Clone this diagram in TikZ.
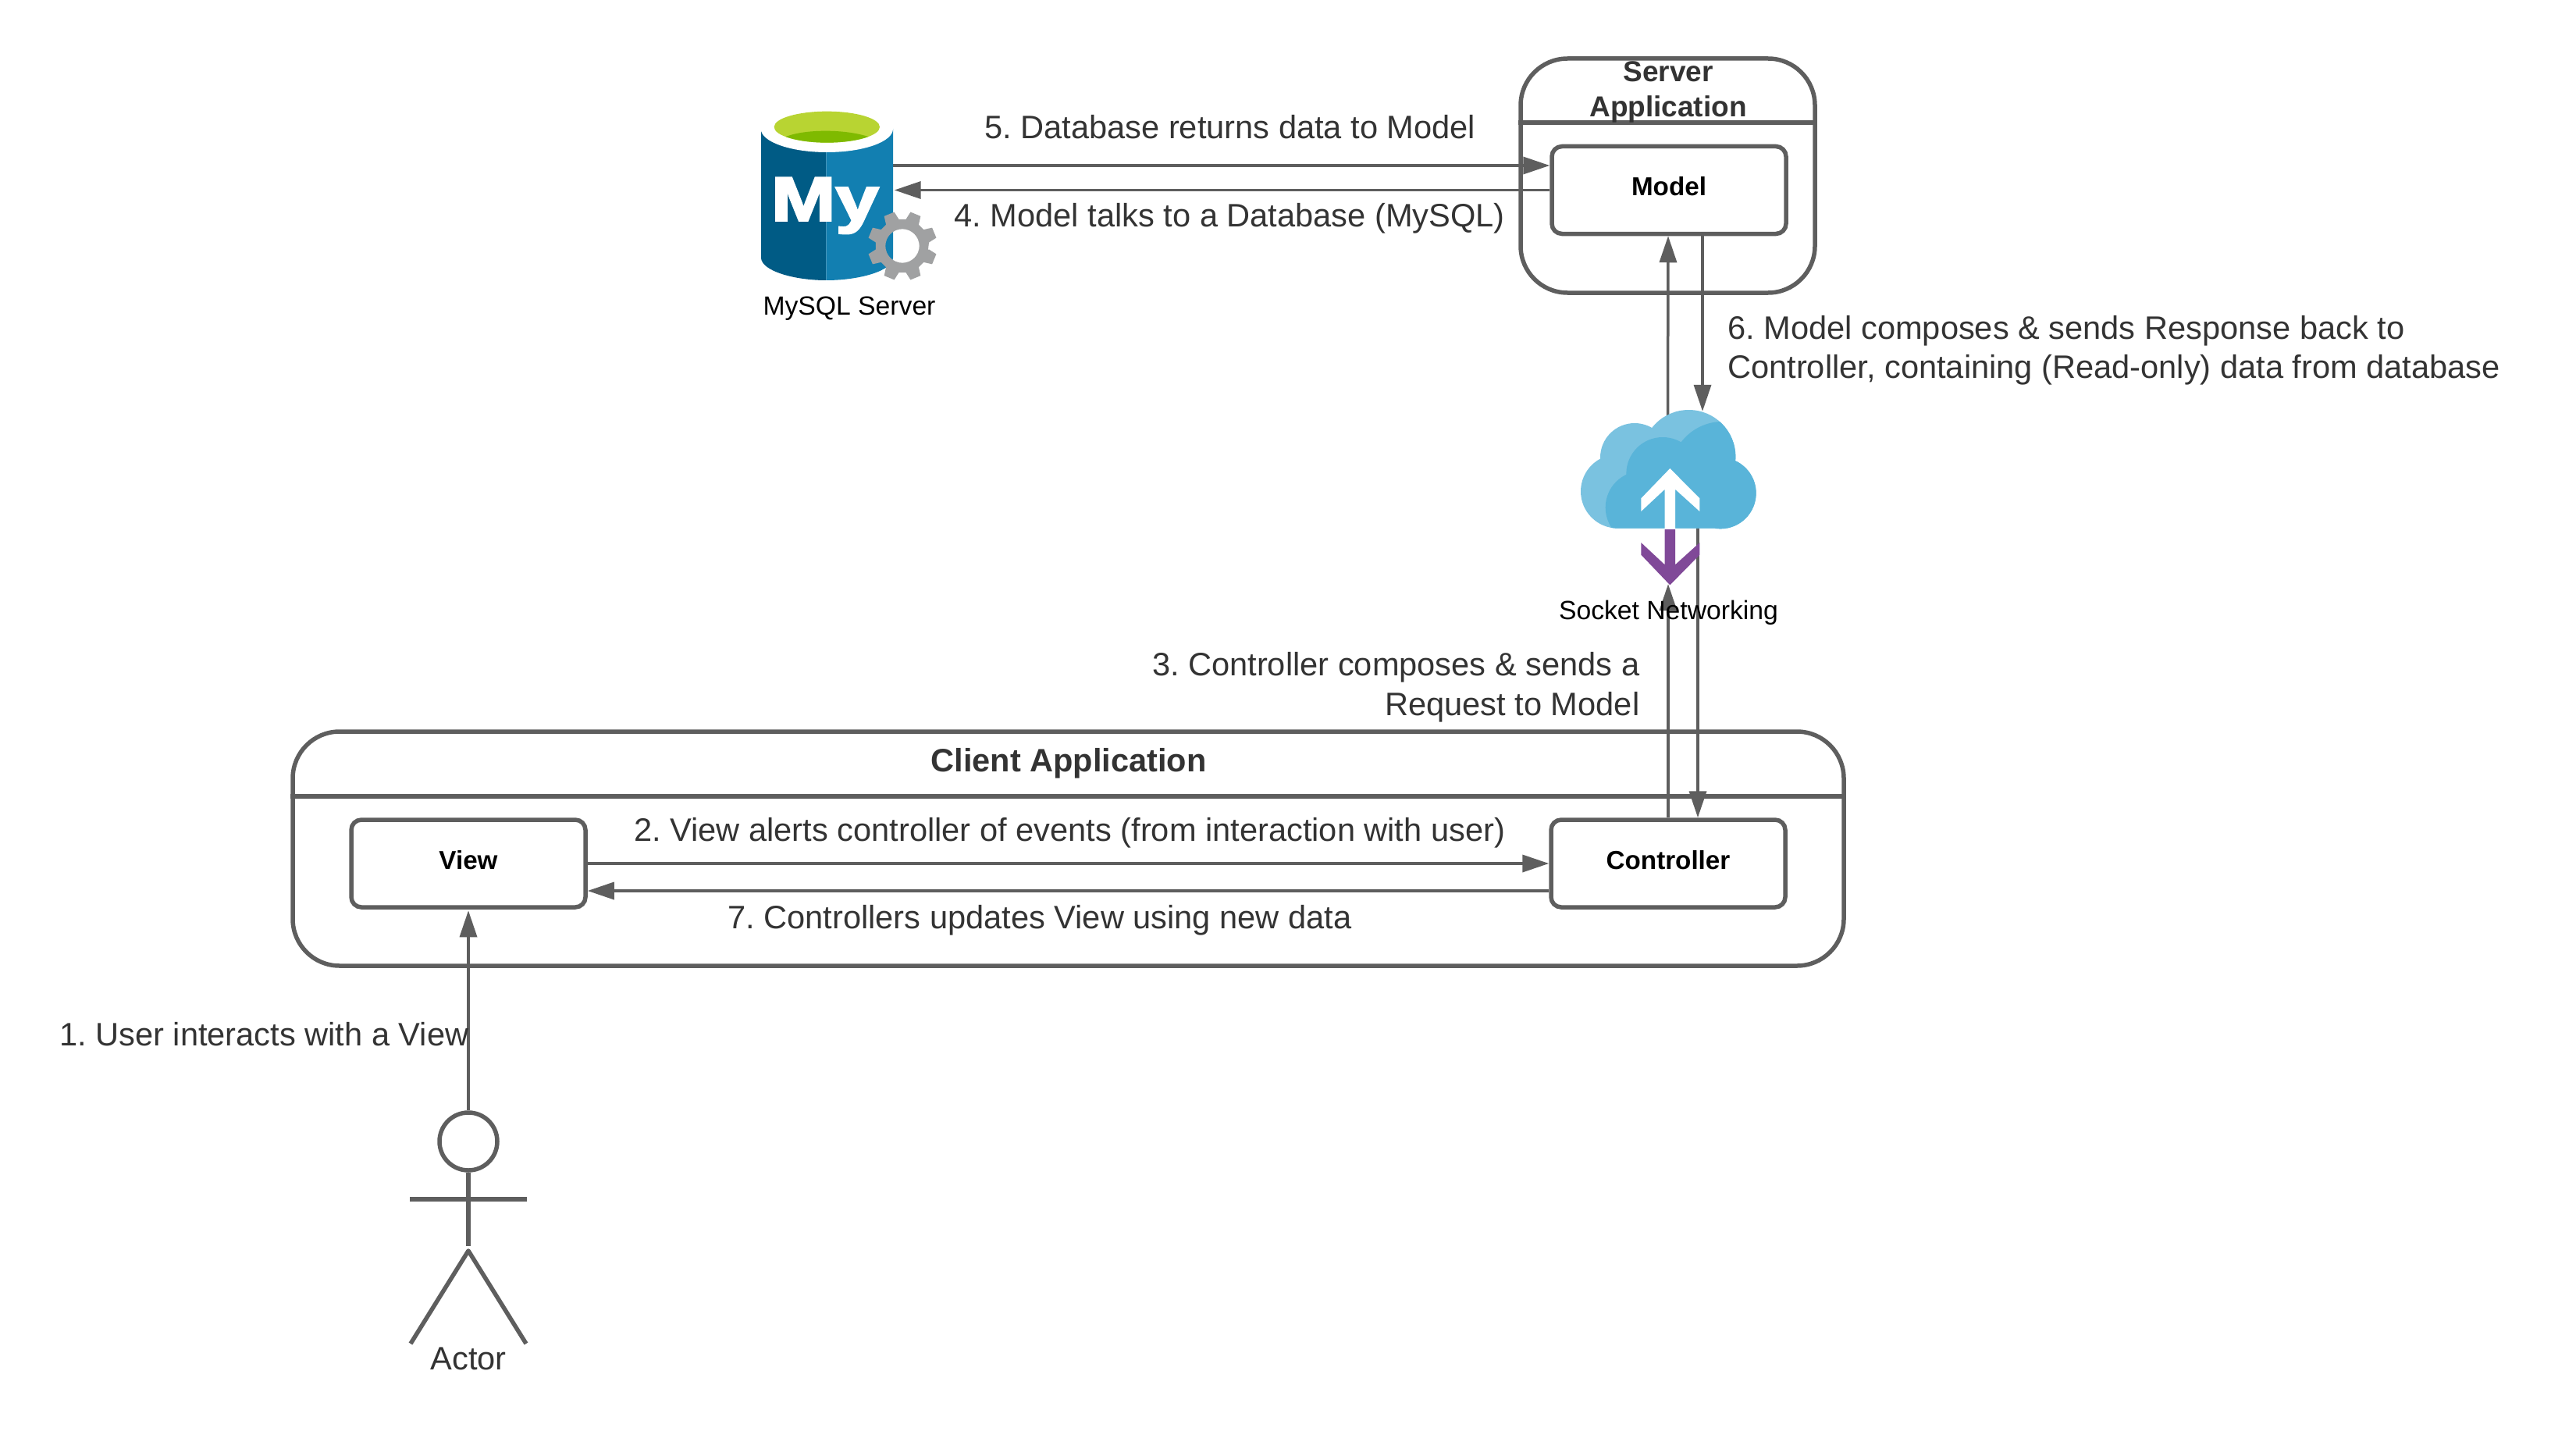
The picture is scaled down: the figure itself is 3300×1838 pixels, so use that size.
\documentclass[tikz,border=0pt]{standalone}
\usepackage{fontspec}
\setmainfont{Liberation Sans}
\newfontfamily\logofont[FakeBold=3]{Liberation Sans Bold}
\usetikzlibrary{arrows.meta,calc}
\definecolor{linegray}{HTML}{5E5E5E}
\definecolor{labelgray}{HTML}{333333}
\definecolor{dbdark}{HTML}{005B85}
\definecolor{dblight}{HTML}{127FB1}
\definecolor{limelight}{HTML}{B8D432}
\definecolor{limedark}{HTML}{7FBA00}
\definecolor{gearcol}{HTML}{A0A1A2}
\definecolor{cloudlight}{HTML}{7AC2E0}
\definecolor{clouddark}{HTML}{59B4D9}
\definecolor{netpurple}{HTML}{804998}
\frenchspacing
\tikzset{
  x=1pt,y=-1pt,
  container/.style={draw=linegray,line width=5.5pt,rounded corners=60pt,fill=white,inner sep=0pt},
  compbox/.style={draw=linegray,line width=5.5pt,rounded corners=13pt,fill=white,inner sep=0pt,
    minimum width=300pt,minimum height=112pt,text height=24pt,text depth=10pt,
    font=\fontsize{33.2}{38}\selectfont\bfseries,text=black},
  conn/.style={draw=linegray,line width=3.5pt,-{Triangle[length=34pt,width=22pt]}},
  msg/.style={font=\fontsize{41.6}{47}\selectfont,text=labelgray,inner sep=0pt},
  title/.style={font=\fontsize{37}{45}\selectfont\bfseries,text=labelgray,inner sep=0pt,align=center},
  iconlabel/.style={font=\fontsize{33.7}{38}\selectfont,text=black,inner sep=0pt},
  actorline/.style={draw=linegray,line width=5.5pt},
  anchorbox/.style={inner sep=0pt},
}
\begin{document}
\begin{tikzpicture}
\useasboundingbox (0,0) rectangle (3300,1838);
% containers
\node[container,minimum width=377pt,minimum height=300pt] (serverbox) at (2136.5,225) {};
\draw[actorline] (serverbox.west |- 0,157) -- (serverbox.east |- 0,157);
\node[title,anchor=south] (servertitle) at (2137,157) {Server\\Application};
\node[container,minimum width=1987pt,minimum height=300pt] (clientbox) at (1368.5,1087) {};
\draw[actorline] (clientbox.west |- 0,1020) -- (clientbox.east |- 0,1020);
\node[title,anchor=base,font=\fontsize{41.5}{47}\selectfont\bfseries] (clienttitle) at (1369,988) {Client Application};
% components
\node[compbox] (model) at (2138,243.5) {Model};
\node[compbox] (view) at (600,1106) {View};
\node[compbox] (controller) at (2137,1106) {Controller};
% invisible anchors for icons
\node[anchorbox,minimum width=169pt,minimum height=224pt] (mysql) at (1059,259) {};
\node[anchorbox,minimum width=225pt,minimum height=152pt] (cloud) at (2137.5,601) {};
\coordinate (netbottom) at (2137,748);
% connectors
\draw[conn] (mysql.east |- 0,212) -- (model.west |- 0,212);
\draw[conn] (model.west) -- ([xshift=2pt]mysql.east |- 0,243.5);
\draw[conn] ([xshift=-1pt,yshift=-8pt]cloud.north) -- ([xshift=-1pt]model.south);
\draw[conn] ([xshift=43pt]model.south) -- ([xshift=43.5pt,yshift=-2pt]cloud.north);
\draw[conn] (controller.north) -- (netbottom);
\draw[conn] ([yshift=3pt,xshift=38pt]cloud.south -| controller.north) -- ([xshift=38pt]controller.north);
\draw[conn] (view.east) -- (controller.west);
\draw[conn] (controller.west |- 0,1141) -- (view.east |- 0,1141);
% mysql icon
\begin{scope}[shift={(940,120)},x=0.33333pt,y=-0.33333pt]
  \fill[dbdark] (105,135) -- (105,630) .. controls (105,680) and (230,717) .. (355,717) -- (355,135) -- cycle;
  \fill[dblight] (355,135) -- (355,717) .. controls (485,717) and (612,680) .. (612,630) -- (612,135) -- cycle;
  \fill[white] (358,135) ellipse [x radius=254,y radius=90];
  \fill[limelight] (358,128) ellipse [x radius=203,y radius=60];
  \begin{scope}
    \clip (358,128) ellipse [x radius=203,y radius=60];
    \fill[limedark] (190,170) .. controls (260,134) and (440,134) .. (530,170) -- (530,200) -- (190,200) -- cycle;
  \end{scope}
  \node[anchor=base west,inner sep=0pt,text=white,font=\fontsize{80}{80}\logofont,xscale=1.24] (mylogo) at (143,488) {My};
  \fill[gearcol,even odd rule]
    ({648+100*cos(9.5)},{585+100*sin(9.5)})
    \foreach \t in {0,45,...,315} {
      -- ({648+103*cos(\t+7.5)},{585+103*sin(\t+7.5)})
      -- ({648+134*cos(\t+13.5)},{585+134*sin(\t+13.5)})
      -- ({648+134*cos(\t+31.5)},{585+134*sin(\t+31.5)})
      -- ({648+103*cos(\t+37.5)},{585+103*sin(\t+37.5)})
    } -- cycle
    (648,585) circle [radius=65];
\end{scope}
\node[iconlabel,anchor=base] (mysqllabel) at (1088,403) {MySQL Server};
% cloud icon
\begin{scope}[shift={(1980,500)},x=0.33333pt,y=-0.33333pt]
  \fill[cloudlight] (277,388) circle [radius=142] (672,395) circle [radius=137] (342,258) circle [radius=132] (550,255) circle [radius=180] (672,270) rectangle (277,530);
  \begin{scope}
    \clip (277,388) circle [radius=142] (672,395) circle [radius=137] (342,258) circle [radius=132] (550,255) circle [radius=180] (672,270) rectangle (277,530);
    \fill[clouddark] (680,320) circle [radius=200] (450,320) circle [radius=140] (370,450) circle [radius=140] (830,320) rectangle (370,560);
  \end{scope}
  \fill[white] (478,300) -- (592,415) -- (592,465) -- (498,380) -- (498,532) -- (458,532) -- (458,380) -- (367,465) -- (367,415) -- cycle;
  \fill[netpurple] (458,534) -- (498,534) -- (498,670) -- (592,585) -- (592,632) -- (478,748) -- (367,632) -- (367,585) -- (458,670) -- cycle;
\end{scope}
\node[iconlabel,anchor=base] (cloudlabel) at (2137.5,793) {Socket Networking};
% actor
\node[circle,draw=linegray,line width=5.5pt,fill=white,inner sep=0pt,minimum size=74pt] (head) at (600,1462) {};
\coordinate (shoulderl) at (525,1536);
\coordinate (shoulderr) at (675,1536);
\coordinate (hip) at (600,1596);
\coordinate (footl) at (526,1721);
\coordinate (footr) at (674,1721);
\draw[actorline] (head.south) -- (hip);
\draw[actorline] (shoulderl) -- (shoulderr);
\draw[actorline,line join=round] (footl) -- (600,1602) -- (footr);
\node[msg,anchor=base] (actorlabel) at (600,1754) {Actor};
\draw[conn] (head.north) -- ([yshift=-1.5pt]view.south);
% messages
\node[msg,anchor=base west] (m5) at (1261,178) {5. Database returns data to Model};
\node[msg,anchor=base west] (m4) at (1222.5,290) {4. Model talks to a Database (MySQL)};
\node[msg,anchor=base west] (m6a) at (2213,434) {6. Model composes \& sends Response back to};
\node[msg,anchor=base west] (m6b) at (2213,484) {Controller, containing (Read-only) data from database};
\node[msg,anchor=base east] (m3a) at (2100.5,865) {3. Controller composes \& sends a};
\node[msg,anchor=base east] (m3b) at (2100.5,916) {Request to Model};
\node[msg,anchor=base west] (m2) at (812,1077) {2. View alerts controller of events (from interaction with user)};
\node[msg,anchor=base west] (m7) at (932,1189) {7. Controllers updates View using new data};
\node[msg,anchor=base west] (m1) at (76,1339) {1. User interacts with a View};
\end{tikzpicture}
\end{document}
